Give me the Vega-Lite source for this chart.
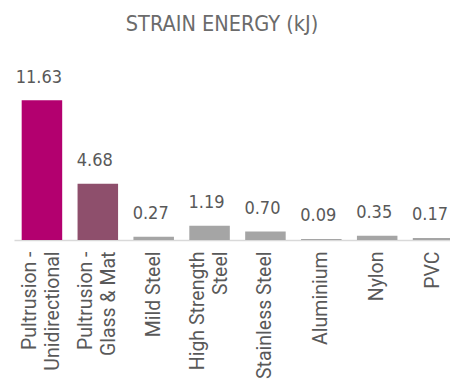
{
  "$schema": "https://vega.github.io/schema/vega-lite/v6.json",
  "autosize": {"type": "none"},
  "width": 436,
  "height": 190,
  "padding": {"left": 14, "top": 50, "right": 0, "bottom": 145},
  "background": "white",
  "title": {
    "text": "STRAIN ENERGY (kJ)",
    "font": "DejaVu Sans Condensed",
    "fontSize": 21.5,
    "fontWeight": "normal",
    "color": "#6b6b6b",
    "anchor": "middle",
    "frame": "group",
    "baseline": "alphabetic",
    "offset": -2,
    "dx": -10
  },
  "data": {
    "values": [
      {"material": "Pultrusion -\nUnidirectional", "energy": 11.63},
      {"material": "Pultrusion -\nGlass  & Mat", "energy": 4.68},
      {"material": "Mild Steel", "energy": 0.27},
      {"material": "High Strength\nSteel", "energy": 1.19},
      {"material": "Stainless Steel", "energy": 0.70},
      {"material": "Aluminium", "energy": 0.09},
      {"material": "Nylon", "energy": 0.35},
      {"material": "PVC", "energy": 0.17}
    ]
  },
  "encoding": {
    "x": {
      "field": "material",
      "type": "nominal",
      "sort": null,
      "scale": {"range": [0, 447], "paddingInner": 0.275, "paddingOuter": 0.1375},
      "axis": {
        "title": null,
        "labelAngle": -90,
        "labelAlign": "right",
        "labelBaseline": "middle",
        "labelFont": "Roboto",
        "labelFontSize": 19.5,
        "labelColor": "#595959",
        "labelLineHeight": 23,
        "labelPadding": 11,
        "labelOffset": {"condition": {"test": "indexof(datum.value, '\\n') >= 0", "value": -11.5}, "value": 0},
        "labelExpr": "split(datum.label, '\\n')",
        "ticks": false,
        "domainColor": "#d9d9d9",
        "domainWidth": 1.5,
        "grid": false
      }
    },
    "y": {
      "field": "energy",
      "type": "quantitative",
      "scale": {"domain": [0, 15.8]},
      "axis": null
    }
  },
  "layer": [
    {
      "mark": {"type": "bar"},
      "encoding": {
        "color": {
          "field": "material",
          "type": "nominal",
          "legend": null,
          "scale": {
            "domain": [
              "Pultrusion -\nUnidirectional",
              "Pultrusion -\nGlass  & Mat",
              "Mild Steel",
              "High Strength\nSteel",
              "Stainless Steel",
              "Aluminium",
              "Nylon",
              "PVC"
            ],
            "range": ["#b3006f", "#8e4f6c", "#a5a5a5", "#a5a5a5", "#a5a5a5", "#a5a5a5", "#a5a5a5", "#a5a5a5"]
          }
        }
      }
    },
    {
      "mark": {
        "type": "text",
        "font": "DejaVu Sans Condensed",
        "fontSize": 18,
        "color": "#595959",
        "baseline": "alphabetic",
        "dy": -17.5,
        "dx": -3
      },
      "encoding": {
        "text": {"field": "energy", "type": "quantitative", "format": ".2f"}
      }
    }
  ],
  "config": {"view": {"stroke": null}}
}
